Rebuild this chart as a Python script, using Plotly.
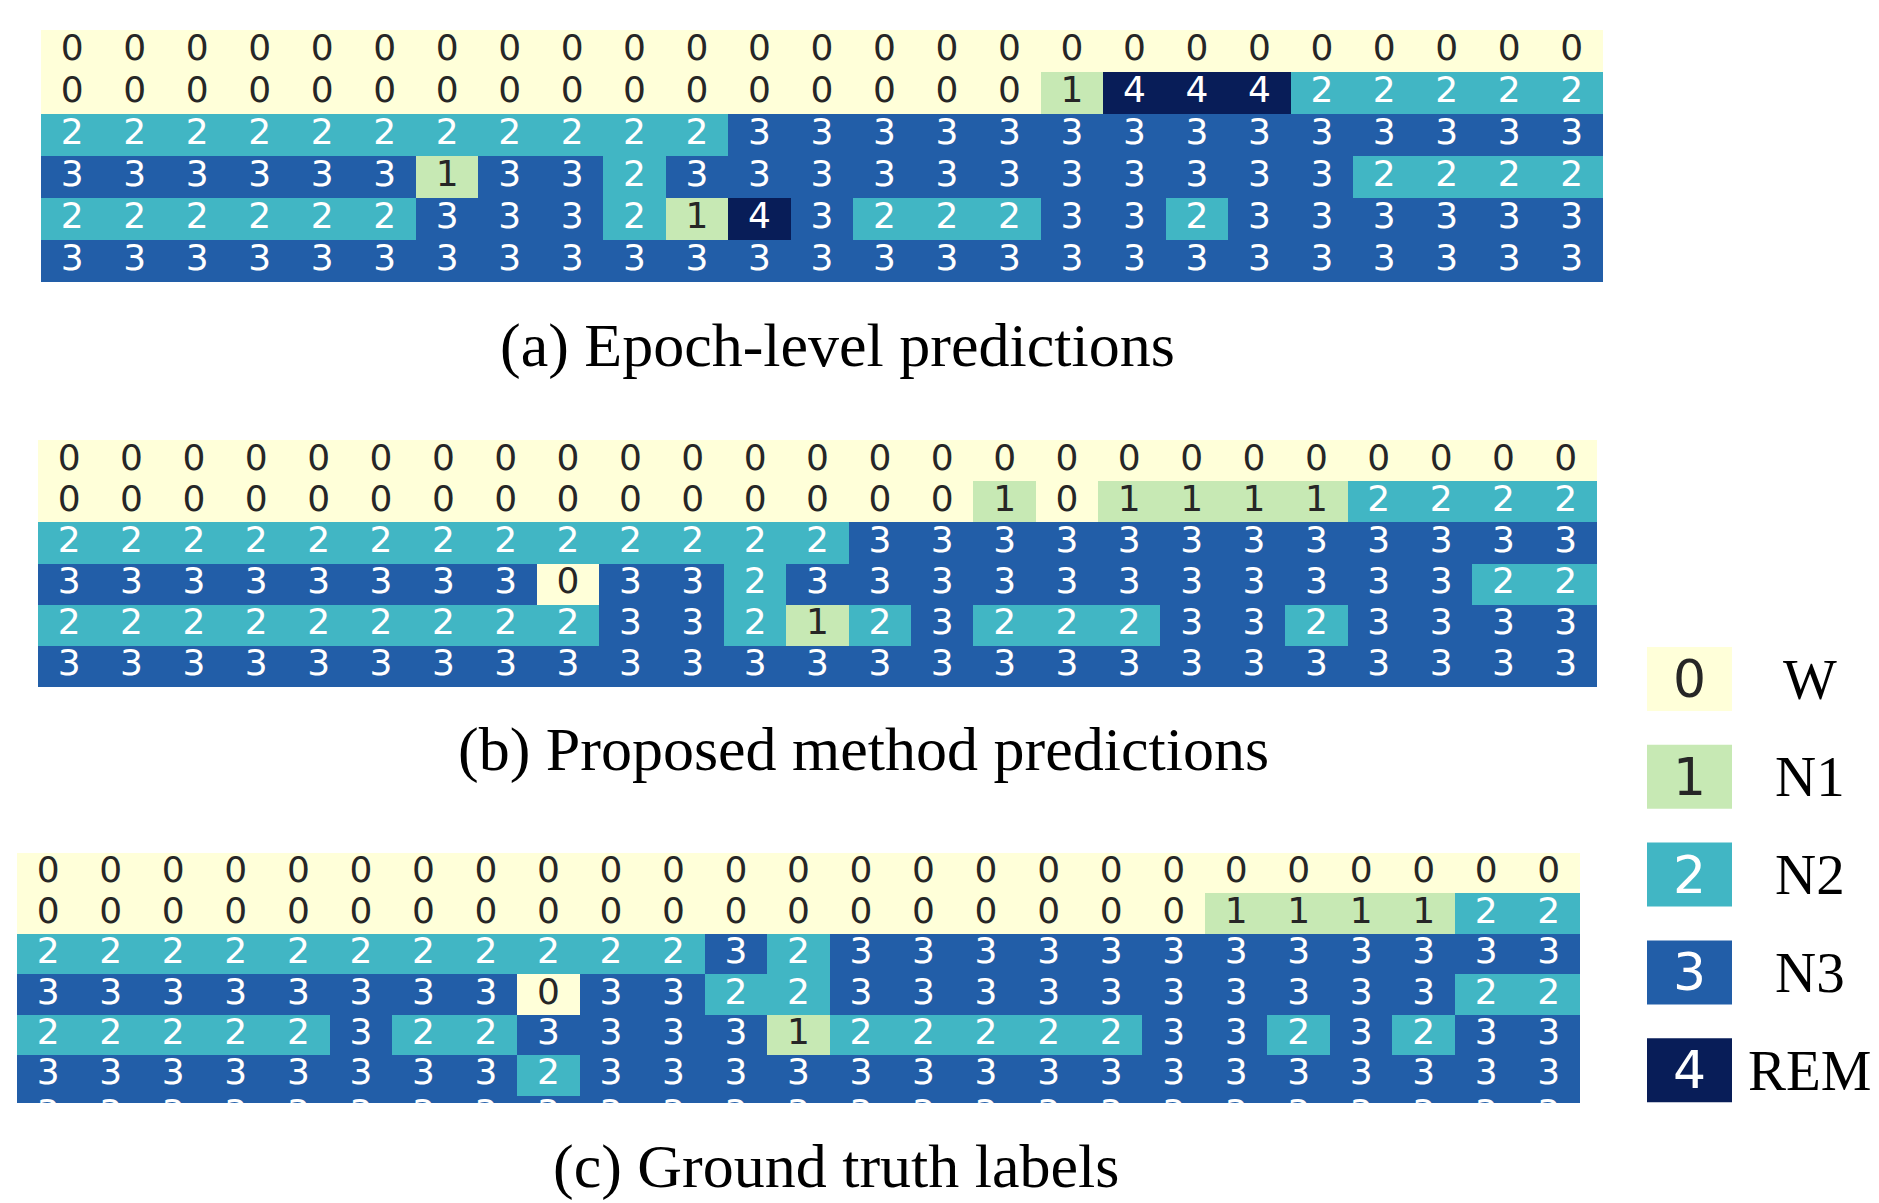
import plotly.graph_objects as go

# ---------------- data ----------------
stage_codes = [0, 1, 2, 3, 4]
stage_names = ["W", "N1", "N2", "N3", "REM"]
stage_colors = ["#ffffd9", "#c7e9b4", "#41b6c4", "#225ea8", "#081d58"]
digit_colors = ["#262626", "#262626", "#ffffff", "#ffffff", "#ffffff"]

captions = ["(a) Epoch-level predictions",
            "(b) Proposed method predictions",
            "(c) Ground truth labels"]

epoch_level = [
    [0, 0, 0, 0, 0, 0, 0, 0, 0, 0, 0, 0, 0, 0, 0, 0, 0, 0, 0, 0, 0, 0, 0, 0, 0],
    [0, 0, 0, 0, 0, 0, 0, 0, 0, 0, 0, 0, 0, 0, 0, 0, 1, 4, 4, 4, 2, 2, 2, 2, 2],
    [2, 2, 2, 2, 2, 2, 2, 2, 2, 2, 2, 3, 3, 3, 3, 3, 3, 3, 3, 3, 3, 3, 3, 3, 3],
    [3, 3, 3, 3, 3, 3, 1, 3, 3, 2, 3, 3, 3, 3, 3, 3, 3, 3, 3, 3, 3, 2, 2, 2, 2],
    [2, 2, 2, 2, 2, 2, 3, 3, 3, 2, 1, 4, 3, 2, 2, 2, 3, 3, 2, 3, 3, 3, 3, 3, 3],
    [3, 3, 3, 3, 3, 3, 3, 3, 3, 3, 3, 3, 3, 3, 3, 3, 3, 3, 3, 3, 3, 3, 3, 3, 3],
]

proposed = [
    [0, 0, 0, 0, 0, 0, 0, 0, 0, 0, 0, 0, 0, 0, 0, 0, 0, 0, 0, 0, 0, 0, 0, 0, 0],
    [0, 0, 0, 0, 0, 0, 0, 0, 0, 0, 0, 0, 0, 0, 0, 1, 0, 1, 1, 1, 1, 2, 2, 2, 2],
    [2, 2, 2, 2, 2, 2, 2, 2, 2, 2, 2, 2, 2, 3, 3, 3, 3, 3, 3, 3, 3, 3, 3, 3, 3],
    [3, 3, 3, 3, 3, 3, 3, 3, 0, 3, 3, 2, 3, 3, 3, 3, 3, 3, 3, 3, 3, 3, 3, 2, 2],
    [2, 2, 2, 2, 2, 2, 2, 2, 2, 3, 3, 2, 1, 2, 3, 2, 2, 2, 3, 3, 2, 3, 3, 3, 3],
    [3, 3, 3, 3, 3, 3, 3, 3, 3, 3, 3, 3, 3, 3, 3, 3, 3, 3, 3, 3, 3, 3, 3, 3, 3],
]

ground_truth = [
    [0, 0, 0, 0, 0, 0, 0, 0, 0, 0, 0, 0, 0, 0, 0, 0, 0, 0, 0, 0, 0, 0, 0, 0, 0],
    [0, 0, 0, 0, 0, 0, 0, 0, 0, 0, 0, 0, 0, 0, 0, 0, 0, 0, 0, 1, 1, 1, 1, 2, 2],
    [2, 2, 2, 2, 2, 2, 2, 2, 2, 2, 2, 3, 2, 3, 3, 3, 3, 3, 3, 3, 3, 3, 3, 3, 3],
    [3, 3, 3, 3, 3, 3, 3, 3, 0, 3, 3, 2, 2, 3, 3, 3, 3, 3, 3, 3, 3, 3, 3, 2, 2],
    [2, 2, 2, 2, 2, 3, 2, 2, 3, 3, 3, 3, 1, 2, 2, 2, 2, 2, 3, 3, 2, 3, 2, 3, 3],
    [3, 3, 3, 3, 3, 3, 3, 3, 2, 3, 3, 3, 3, 3, 3, 3, 3, 3, 3, 3, 3, 3, 3, 3, 3],
    [3, 3, 3, 3, 3, 3, 3, 3, 3, 3, 3, 3, 3, 3, 3, 3, 3, 3, 3, 3, 3, 3, 3, 3, 3],
]

panels = [epoch_level, proposed, ground_truth]

# ---------------- layout geometry (screen pixels of the 1879x1203 page) ----------------
W, H = 1879, 1203
OFF = 8  # page body margin that offsets the figure on screen
panel_px = [  # left, right, top, bottom
    (41, 1603, 30, 282),
    (38, 1597, 440, 687),
    (17, 1580, 853, 1103),
]
visible_rows = [6, 6, 6.18]
caption_px = [(837, 345), (863, 749), (836, 1166)]

legend_box_x = (1647, 1732)
legend_box_top0, legend_box_h, legend_step = 647, 64, 97.8
legend_label_x = 1810


def px(x):
    return (x - OFF) / W


def py(y):
    return 1 - (y - OFF) / H


colorscale = [[i / 4, c] for i, c in enumerate(stage_colors)]

fig = go.Figure()
layout_axes = {}
for k, data in enumerate(panels):
    n = k + 1
    xa = "x" if n == 1 else f"x{n}"
    ya = "y" if n == 1 else f"y{n}"
    nrows, ncols = len(data), len(data[0])
    fig.add_trace(go.Heatmap(
        z=data, x=list(range(ncols)), y=list(range(nrows)),
        colorscale=colorscale, zmin=0, zmax=4, showscale=False,
        xaxis=xa, yaxis=ya, hoverinfo="z",
    ))
    xs, ys, ts, cs = [], [], [], []
    for r, row in enumerate(data):
        for c, v in enumerate(row):
            xs.append(c); ys.append(r); ts.append(str(v)); cs.append(digit_colors[v])
    fig.add_trace(go.Scatter(
        x=xs, y=ys, text=ts, mode="text",
        textfont=dict(family="DejaVu Sans", size=36, color=cs),
        xaxis=xa, yaxis=ya, hoverinfo="skip", showlegend=False, cliponaxis=True,
    ))
    l, r_, t, b = panel_px[k]
    xkey = "xaxis" if n == 1 else f"xaxis{n}"
    ykey = "yaxis" if n == 1 else f"yaxis{n}"
    layout_axes[xkey] = dict(domain=[px(l), px(r_)], range=[-0.5, ncols - 0.5],
                             visible=False, anchor=ya, fixedrange=True)
    layout_axes[ykey] = dict(domain=[py(b), py(t)],
                             range=[visible_rows[k] - 0.5, -0.5],
                             visible=False, anchor=xa, fixedrange=True)

annotations = []
for k, cap in enumerate(captions):
    cx, cy = caption_px[k]
    annotations.append(dict(
        text=cap, x=px(cx), y=py(cy), xref="paper", yref="paper",
        xanchor="center", yanchor="middle", showarrow=False,
        font=dict(family="Liberation Serif, Times New Roman, serif", size=62, color="black"),
    ))

shapes = []
for i, code in enumerate(stage_codes):
    top = legend_box_top0 + i * legend_step
    bot = top + legend_box_h
    shapes.append(dict(
        type="rect", xref="paper", yref="paper",
        x0=px(legend_box_x[0]), x1=px(legend_box_x[1]),
        y0=py(bot), y1=py(top),
        fillcolor=stage_colors[code], line=dict(width=0),
    ))
    cy = (top + bot) / 2
    annotations.append(dict(
        text=str(code), x=px((legend_box_x[0] + legend_box_x[1]) / 2), y=py(cy),
        xref="paper", yref="paper", xanchor="center", yanchor="middle", showarrow=False,
        font=dict(family="DejaVu Sans", size=52, color=digit_colors[code]),
    ))
    annotations.append(dict(
        text=stage_names[i], x=px(legend_label_x), y=py(cy),
        xref="paper", yref="paper", xanchor="center", yanchor="middle", showarrow=False,
        font=dict(family="Liberation Serif, Times New Roman, serif", size=57, color="black"),
    ))

fig.update_layout(
    width=W, height=H, margin=dict(l=0, r=0, t=0, b=0),
    paper_bgcolor="white", plot_bgcolor="white",
    showlegend=False, annotations=annotations, shapes=shapes,
    **layout_axes,
)

fig.write_html("out.html")
